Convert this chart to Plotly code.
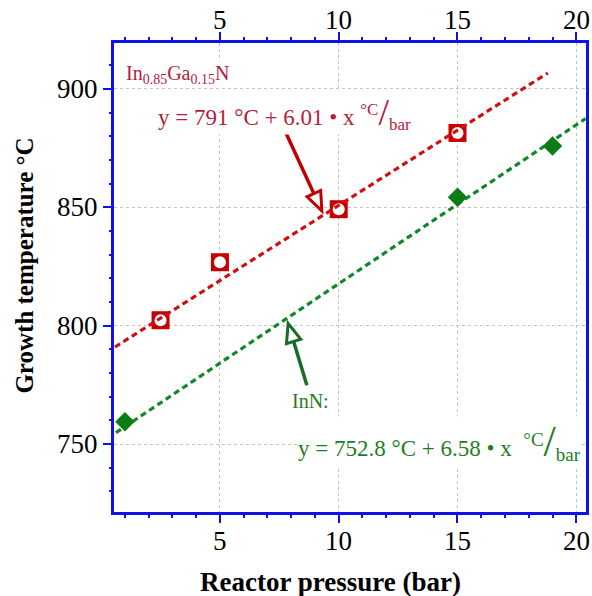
import plotly.graph_objects as go

# ---------------- data ----------------
ingan_x = [2.5, 5, 10, 15]
ingan_y = [802.3, 826.8, 849.2, 881.4]
inn_x = [1, 15, 19]
inn_y = [759.4, 854.2, 875.9]

# dashed guide lines (start / end points)
ingan_fit_x = [0.58, 18.8]
ingan_fit_y = [791.0, 906.7]
inn_fit_x = [0.62, 20.4]
inn_fit_y = [754.8, 887.5]

# arrows: (tail x, tail y, tip x, tip y)
red_arrow = [7.76, 881.8, 9.29, 848.5]
green_arrow = [8.66, 774.8, 7.87, 801.0]

x_range = [0.54, 20.41]
y_range = [721.3, 919.4]
x_ticks = [5, 10, 15, 20]
x_tick_labels = ["5", "10", "15", "20"]
y_ticks = [750, 800, 850, 900]
y_tick_labels = ["750", "800", "850", "900"]

# ---------------- styling ----------------
W, H = 592, 596
ML, MR, MT, MB = 114, 3, 43, 84
FONT = "Liberation Serif"
AXIS_BLUE = "#1010E8"
RED = "#C80000"
RED_TEXT = "#B21E3C"
RED_ARROW = "#C00000"
GREEN = "#0C7C14"
GREEN_LINE = "#12872A"
GREEN_TEXT = "#1E7D22"
GREEN_ARROW = "#1A6A28"
TICK_SIZE = 27

fig = go.Figure()

fig.add_trace(go.Scatter(x=ingan_x, y=ingan_y, mode="markers",
                         marker=dict(symbol="square", size=18, color=RED),
                         hoverinfo="skip", showlegend=False))
fig.add_trace(go.Scatter(x=ingan_x, y=ingan_y, mode="markers", xaxis="x3",
                         marker=dict(symbol="circle", size=12, color="white"),
                         hoverinfo="skip", showlegend=False))
fig.add_trace(go.Scatter(x=ingan_fit_x, y=ingan_fit_y, mode="lines", xaxis="x4",
                         line=dict(color="#D01010", width=3.2, dash="6px,4px"),
                         hoverinfo="skip", showlegend=False))
fig.add_trace(go.Scatter(x=inn_fit_x, y=inn_fit_y, mode="lines", yaxis="y2",
                         line=dict(color=GREEN_LINE, width=3.2, dash="6px,4px"),
                         hoverinfo="skip", showlegend=False))
fig.add_trace(go.Scatter(x=inn_x, y=inn_y, mode="markers", xaxis="x2",
                         marker=dict(symbol="diamond", size=15, color=GREEN),
                         hoverinfo="skip", showlegend=False))

# ---------------- arrows as shapes ----------------
pw = W - ML - MR
ph = H - MT - MB
px_x = pw / (x_range[1] - x_range[0])
px_y = ph / (y_range[1] - y_range[0])


def arrow(a, color):
    tx, ty, hx, hy = a
    dx = (hx - tx) * px_x
    dy = -(hy - ty) * px_y
    L = (dx * dx + dy * dy) ** 0.5
    ux, uy = dx / L, dy / L
    head_len, half_w = 19, 7.5
    bx, by = -ux * head_len, -uy * head_len
    nx, ny = -uy * half_w, ux * half_w

    def to_data(ox, oy):
        return hx + ox / px_x, hy - oy / px_y
    base = to_data(bx, by)
    p1 = to_data(bx + nx, by + ny)
    p2 = to_data(bx - nx, by - ny)
    fig.add_shape(type="line", x0=tx, y0=ty, x1=base[0], y1=base[1],
                  line=dict(color=color, width=3.5), layer="above")
    path = f"M {hx},{hy} L {p1[0]},{p1[1]} L {p2[0]},{p2[1]} Z"
    fig.add_shape(type="path", path=path, fillcolor="white",
                  line=dict(color=color, width=3), layer="above")


arrow(red_arrow, RED_ARROW)
arrow(green_arrow, GREEN_ARROW)


# ---------------- text ----------------
def frac(size, slash):
    return (f'<sup><span style="font-size:{size}px">°C</span></sup>'
            f'<span style="font-size:{slash}px">/</span>'
            f'<sub><span style="font-size:{size}px">bar</span></sub>')


def px2paper(px, py):
    return (px - ML) / pw, 1 - (py - MT) / ph


annots = [
    dict(px=125, py=75, text="In<sub>0.85</sub>Ga<sub>0.15</sub>N", color=RED_TEXT, size=20),
    dict(px=157, py=112, text="y = 791 °C + 6.01 • x " + frac(17, 38), color=RED_TEXT, size=23),
    dict(px=292, py=401, text="InN:", color=GREEN_TEXT, size=20),
    dict(px=298, py=441, text="y = 752.8 °C + 6.58 • x  " + frac(19, 44), color=GREEN_TEXT,
         size=23),
]
for a in annots:
    ax_, ay_ = px2paper(a["px"], a["py"])
    fig.add_annotation(
        x=ax_, y=ay_, xref="paper", yref="paper", xanchor="left", yanchor="middle",
        text=a["text"], showarrow=False, bgcolor="white", borderpad=0,
        font=dict(family=FONT, size=a["size"], color=a["color"]))

# axis titles
tx_, ty_ = px2paper(332, 582)
fig.add_annotation(x=tx_, y=ty_, xref="paper", yref="paper", showarrow=False,
                   xanchor="center", yanchor="middle",
                   text="<b>Reactor pressure (bar)</b>",
                   font=dict(family=FONT, size=27, color="black"))
tx_, ty_ = px2paper(23, 266)
fig.add_annotation(x=tx_, y=ty_, xref="paper", yref="paper", showarrow=False,
                   xanchor="center", yanchor="middle", textangle=-90,
                   text="<b>Growth temperature °C</b>",
                   font=dict(family=FONT, size=25, color="black"))

# tick labels (drawn as annotations tied to the axes)
for v, lab in zip(x_ticks, x_tick_labels):
    for py in (541, 20):
        fig.add_annotation(x=v, y=1 - (py - MT) / ph, xref="x", yref="paper",
                           text=lab, showarrow=False, xanchor="center",
                           yanchor="middle",
                           font=dict(family=FONT, size=TICK_SIZE, color="black"))
for v, lab in zip(y_ticks, y_tick_labels):
    fig.add_annotation(x=(100 - ML) / pw, y=v, xref="paper", yref="y", text=lab,
                       showarrow=False, xanchor="right", yanchor="middle",
                       font=dict(family=FONT, size=TICK_SIZE, color="black"))

major = dict(showline=True, linecolor=AXIS_BLUE, linewidth=2.5,
             ticks="outside", tickcolor=AXIS_BLUE, tickwidth=2, ticklen=8,
             showticklabels=False, zeroline=False)
minor_only = dict(showline=False, ticks="outside", tickcolor=AXIS_BLUE,
                  tickwidth=2, showticklabels=False, showgrid=False,
                  zeroline=False)
grid = dict(showgrid=True, gridcolor="#C4C4C4", griddash="dot", gridwidth=1)

fig.update_layout(
    width=W, height=H,
    margin=dict(l=ML, r=MR, t=MT, b=MB),
    paper_bgcolor="white", plot_bgcolor="white",
    font=dict(family=FONT, color="black", size=22),
    xaxis=dict(range=x_range, tickvals=x_ticks, mirror=True, **major, **grid),
    xaxis2=dict(range=x_range, tickvals=x_ticks, overlaying="x", side="top",
                showgrid=False, **major),
    xaxis3=dict(range=x_range, overlaying="x", side="bottom", tick0=0, dtick=1,
                ticklen=5, **minor_only),
    xaxis4=dict(range=x_range, overlaying="x", side="top", tick0=0, dtick=1,
                ticklen=5, **minor_only),
    yaxis=dict(range=y_range, tickvals=y_ticks, mirror=True, **major, **grid),
    yaxis2=dict(range=y_range, overlaying="y", side="left", tick0=0, dtick=10,
                ticklen=4, **minor_only),
)

fig.write_html("out.html")
